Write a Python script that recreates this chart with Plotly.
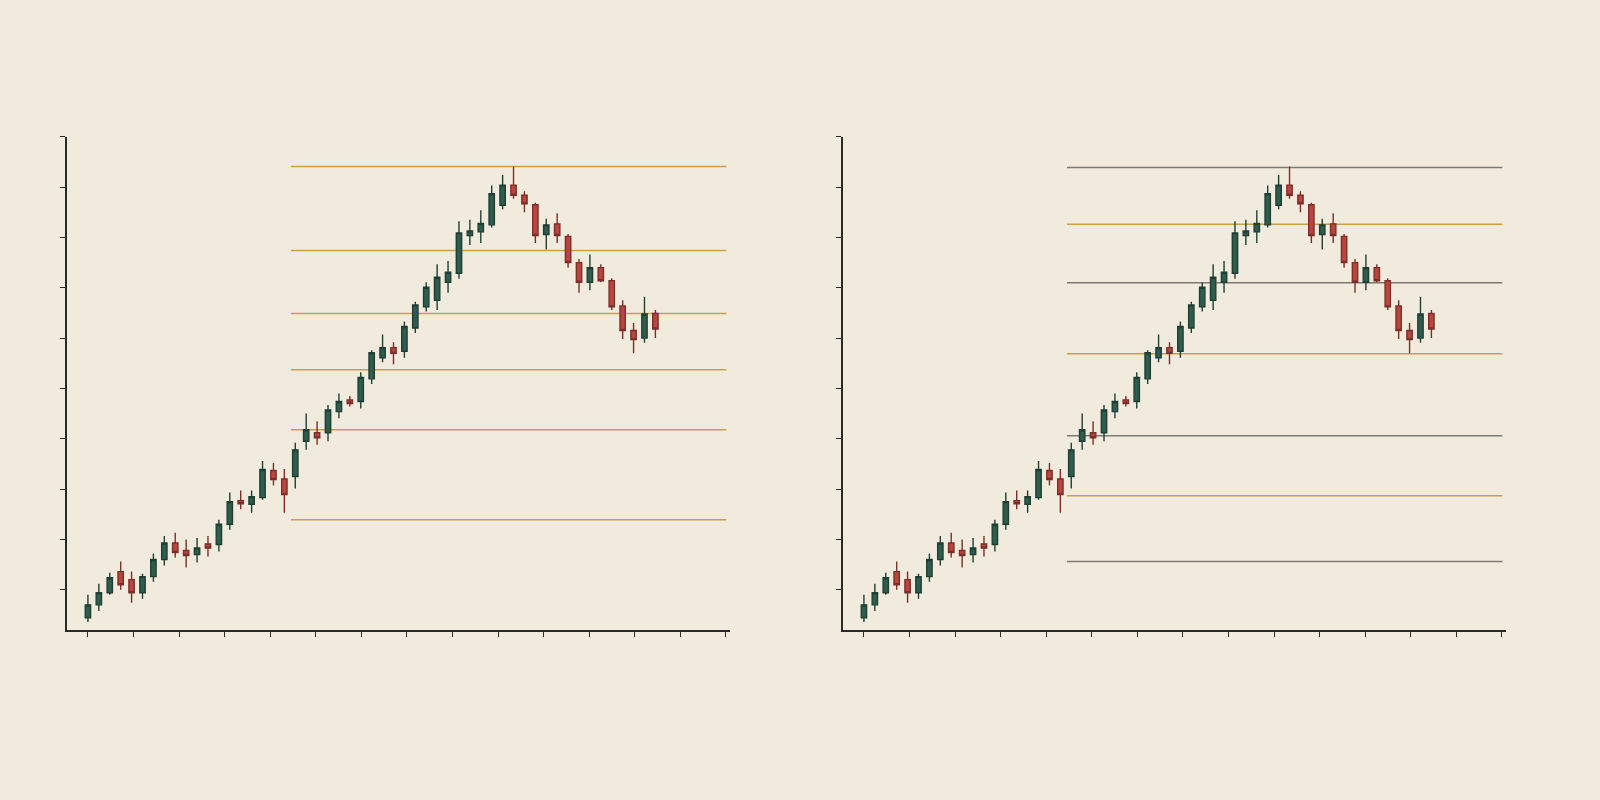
import plotly.graph_objects as go

# candle data (same series drawn in both panels)
candle_idx = list(range(1, 54))
open_ = [4.4, 7.0, 9.4, 13.6, 12.0, 9.4, 12.6, 16.0, 19.3, 17.8, 17.0, 19.1, 19.0, 23.0, 27.7, 27.0, 28.3, 33.7, 32.0,
         32.5, 39.5, 41.2, 41.2, 45.4, 47.7, 47.4, 51.9, 56.1, 58.1, 57.4, 62.0, 66.2, 67.5, 71.1, 72.9, 80.4, 81.1,
         82.5, 86.4, 90.4, 88.4, 86.5, 80.6, 82.7, 80.2, 75.0, 71.1, 74.0, 71.4, 66.4, 61.5, 60.0, 64.9]
high = [9.0, 11.2, 13.4, 15.6, 13.6, 13.2, 17.2, 20.7, 21.3, 20.0, 20.3, 20.7, 23.9, 29.3, 29.7, 29.7, 35.6, 35.2, 34.0,
        39.2, 45.0, 43.5, 46.7, 49.0, 48.5, 53.2, 57.6, 60.7, 59.2, 63.3, 67.2, 71.1, 74.7, 75.3, 83.2, 83.5, 85.4,
        90.3, 92.4, 94.1, 89.2, 86.9, 83.7, 84.8, 80.7, 75.7, 76.6, 74.7, 71.9, 67.5, 63.0, 68.2, 65.6]
low = [3.6, 5.8, 9.0, 10.0, 7.4, 8.2, 11.6, 14.8, 16.4, 14.4, 15.4, 16.6, 17.6, 21.9, 26.0, 25.3, 27.9, 30.7, 25.3,
       30.1, 37.8, 38.8, 39.5, 44.1, 46.4, 46.0, 50.9, 55.2, 54.8, 56.1, 61.0, 65.3, 65.6, 69.0, 71.8, 78.5, 78.9,
       82.0, 85.6, 87.7, 85.0, 78.9, 77.6, 78.9, 74.0, 69.0, 69.5, 71.1, 65.6, 59.8, 57.0, 59.1, 60.0]
close = [7.0, 9.4, 12.4, 11.0, 9.4, 12.6, 16.0, 19.3, 17.4, 16.8, 18.3, 18.3, 23.0, 27.5, 27.1, 28.5, 33.9, 31.9, 28.9,
         37.8, 41.8, 40.2, 45.7, 47.4, 47.0, 52.2, 57.1, 58.1, 57.0, 62.3, 66.6, 70.1, 72.1, 73.1, 80.9, 81.3, 82.8,
         88.7, 90.4, 88.4, 86.7, 80.4, 82.5, 80.4, 75.0, 71.1, 74.0, 71.4, 66.2, 61.5, 59.7, 64.8, 61.8]

# horizontal levels
left_levels = [94.1, 77.4, 64.9, 53.7, 41.8, 23.9]
right_levels = [93.9, 82.6, 71.0, 56.9, 40.6, 28.7, 15.6]
right_level_kind = ["gray", "gold", "gray", "gold", "gray", "gold", "gray"]
level_start = 19.6

y_ticks = [10, 20, 30, 40, 50, 60, 70, 80, 90, 100]

BG = "#f1ebdd"
GREEN = "#2f5c4d"
RED = "#b8463f"
GOLD = "#c9a049"
GRAY = "#7b7b74"
AXIS = "#2a2a2a"

fig = go.Figure()
for xa, ya in [("x", "y"), ("x2", "y2")]:
    fig.add_trace(go.Candlestick(
        x=candle_idx, open=open_, high=high, low=low, close=close,
        xaxis=xa, yaxis=ya, whiskerwidth=0,
        increasing=dict(line=dict(color="#1f3f35", width=1.4), fillcolor=GREEN),
        decreasing=dict(line=dict(color="#7d2e2a", width=1.4), fillcolor=RED),
        showlegend=False, hoverinfo="skip",
    ))

for lv in left_levels:
    fig.add_shape(type="line", xref="x", yref="y", x0=level_start, x1=59.5, y0=lv, y1=lv,
                  line=dict(color=GOLD, width=1.5), layer="below")
for lv, kind in zip(right_levels, right_level_kind):
    fig.add_shape(type="line", xref="x2", yref="y2", x0=level_start, x1=59.5, y0=lv, y1=lv,
                  line=dict(color=GOLD if kind == "gold" else GRAY, width=1.5), layer="below")

xax = dict(range=[-0.9, 59.8], showgrid=False, zeroline=False, showline=True, linecolor=AXIS, linewidth=1.5,
           ticks="outside", ticklen=5, tickcolor=AXIS, tick0=1, dtick=4.176, showticklabels=False,
           rangeslider=dict(visible=False))
yax = dict(range=[2, 100], showgrid=False, zeroline=False, showline=True, linecolor=AXIS, linewidth=1.5,
           ticks="outside", ticklen=5, tickcolor=AXIS, tickvals=y_ticks, showticklabels=False)

fig.update_layout(
    width=1600, height=800,
    margin=dict(l=0, r=0, t=0, b=0),
    paper_bgcolor=BG, plot_bgcolor=BG,
    xaxis=dict(xax, domain=[0.042, 0.456], anchor="y"),
    yaxis=dict(yax, domain=[0.2125, 0.829], anchor="x"),
    xaxis2=dict(xax, domain=[0.527, 0.941], anchor="y2"),
    yaxis2=dict(yax, domain=[0.2125, 0.829], anchor="x2"),
)

fig.write_html("out.html", config={"displayModeBar": False},
               post_script="document.body.style.margin='0';document.body.style.overflow='hidden';"
               "document.body.style.background='%s';" % BG)
